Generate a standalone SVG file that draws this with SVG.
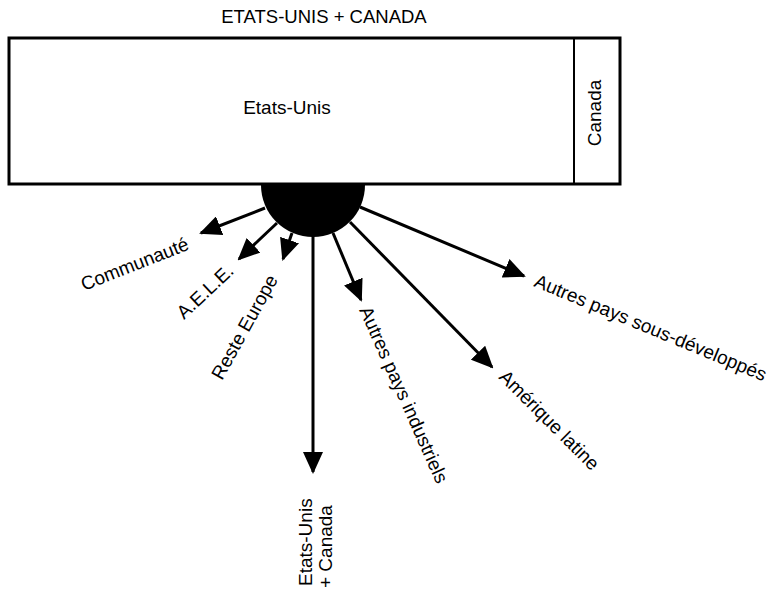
<svg xmlns="http://www.w3.org/2000/svg" width="780" height="591" viewBox="0 0 780 591">
<style>
text{font-family:"Liberation Sans",Arial,sans-serif;font-size:19px;fill:#000}
.box{fill:#fff;stroke:#000;stroke-width:3}
.div{stroke:#000;stroke-width:2}
.ln{stroke:#000;stroke-width:3;fill:none;marker-end:url(#ah)}
</style>
<defs>
<marker id="ah" markerUnits="userSpaceOnUse" markerWidth="22" markerHeight="20" refX="20" refY="10" orient="auto" viewBox="0 0 22 20">
<path d="M0,0 L22,10 L0,20 Z" fill="#000"/>
</marker>
</defs>
<g id="title"><text x="324" y="23" text-anchor="middle" style="font-size:18.5px">ETATS-UNIS + CANADA</text></g>
<g id="box">
<rect class="box" x="9" y="38" width="611" height="146"/>
<line class="div" x1="574" y1="38" x2="574" y2="184"/>
<text x="287" y="114" text-anchor="middle">Etats-Unis</text>
<text transform="translate(601,113) rotate(-90)" text-anchor="middle">Canada</text>
</g>
<g id="connectors">
<line class="ln" x1="265" y1="208" x2="201" y2="233"/>
<line class="ln" x1="277" y1="223" x2="239" y2="259"/>
<line class="ln" x1="292" y1="233" x2="283" y2="259"/>
<line class="ln" x1="313" y1="236" x2="313" y2="472"/>
<line class="ln" x1="333" y1="233" x2="361" y2="300"/>
<line class="ln" x1="350" y1="222" x2="492" y2="367"/>
<line class="ln" x1="360" y1="207" x2="524" y2="276"/>
</g>
<g id="hub"><path d="M261,185 A52,52 0 0 0 365,185 Z" fill="#000"/></g>
<g id="communaute"><text transform="translate(84,291) rotate(-21.5)">Communauté</text></g>
<g id="aele"><text transform="translate(184,320) rotate(-43)">A.E.L.E.</text></g>
<g id="reste"><text transform="translate(222,381) rotate(-61)">Reste Europe</text></g>
<g id="euc"><text transform="translate(312,586) rotate(-90)">Etats-Unis</text><text transform="translate(332,588) rotate(-90)">+ Canada</text></g>
<g id="industriels"><text transform="translate(359,310) rotate(66)">Autres pays industriels</text></g>
<g id="amerique"><text transform="translate(498,378) rotate(45)">Amérique latine</text></g>
<g id="sousdev"><text transform="translate(533,286) rotate(22.5)">Autres pays sous-développés</text></g>
</svg>
